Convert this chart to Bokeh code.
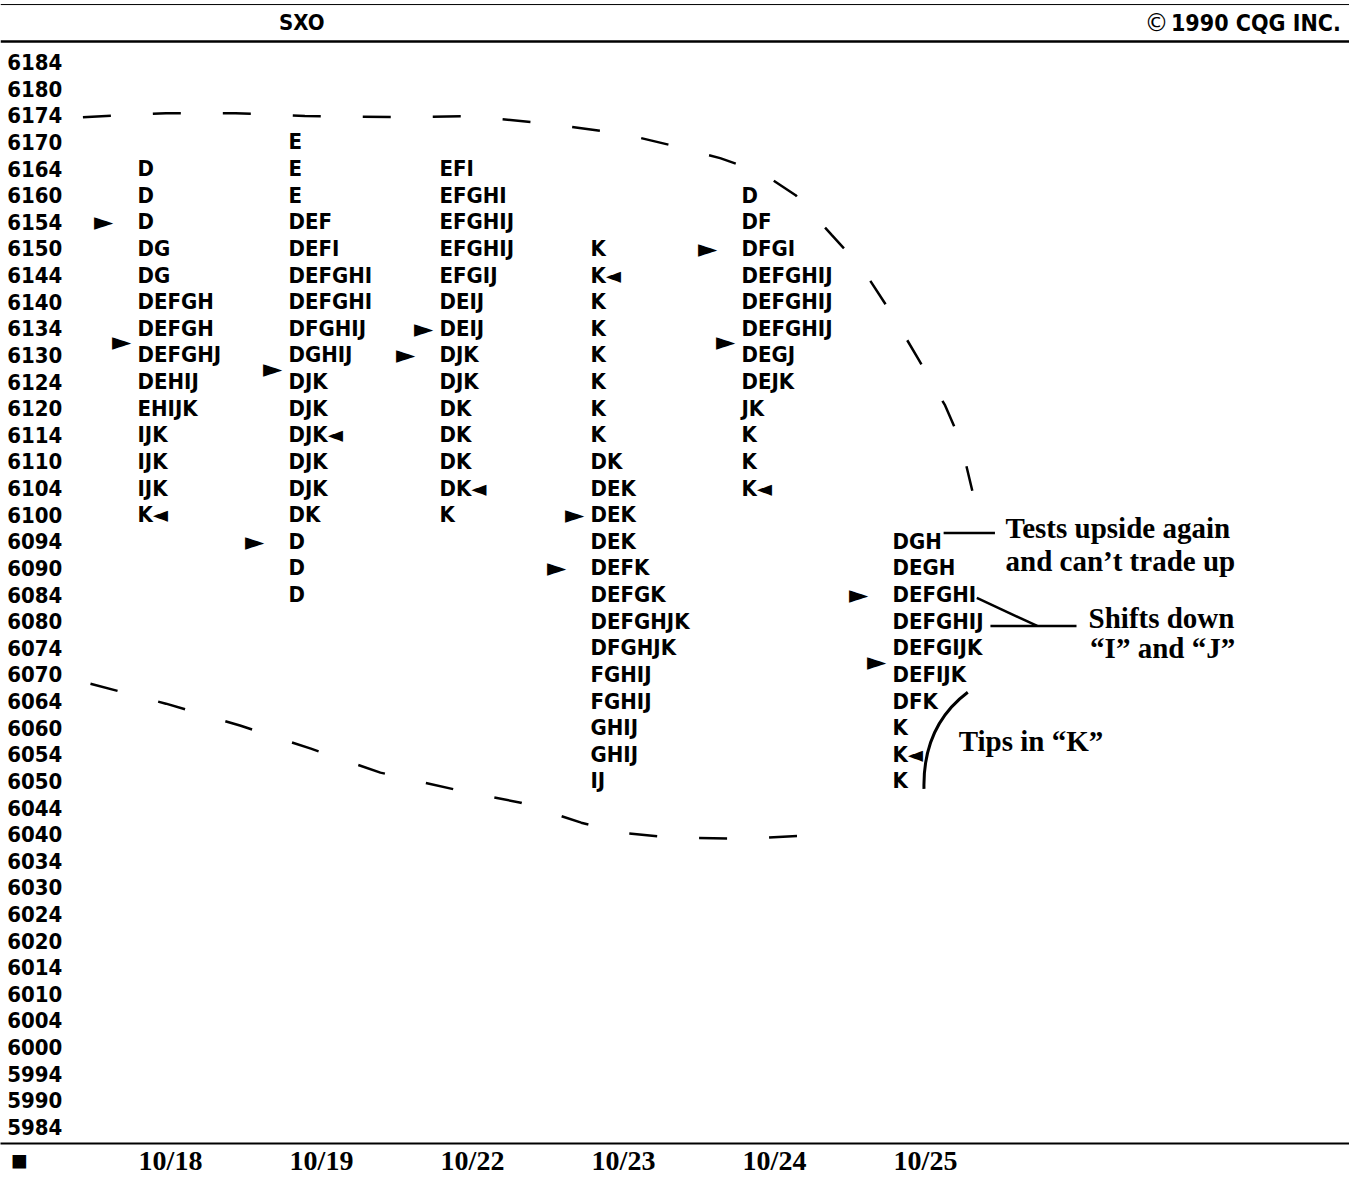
from bokeh.plotting import figure
from bokeh.models import Range1d, FixedTicker, ColumnDataSource
from bokeh.core.properties import value
from bokeh.embed import file_html
from bokeh.resources import INLINE

# ---------------- data ----------------
prices = ["6184", "6180", "6174", "6170", "6164", "6160", "6154", "6150", "6144", "6140",
          "6134", "6130", "6124", "6120", "6114", "6110", "6104", "6100", "6094", "6090",
          "6084", "6080", "6074", "6070", "6064", "6060", "6054", "6050", "6044", "6040",
          "6034", "6030", "6024", "6020", "6014", "6010", "6004", "6000", "5994", "5990", "5984"]
dates = ["10/18", "10/19", "10/22", "10/23", "10/24", "10/25"]

# first (highest) price of each day's profile
top_price = ["6164", "6170", "6164", "6150", "6160", "6094"]
prof_1018 = ["D", "D", "D", "DG", "DG", "DEFGH", "DEFGH", "DEFGHJ", "DEHIJ", "EHIJK",
             "IJK", "IJK", "IJK", "K"]
prof_1019 = ["E", "E", "E", "DEF", "DEFI", "DEFGHI", "DEFGHI", "DFGHIJ", "DGHIJ", "DJK",
             "DJK", "DJK", "DJK", "DJK", "DK", "D", "D", "D"]
prof_1022 = ["EFI", "EFGHI", "EFGHIJ", "EFGHIJ", "EFGIJ", "DEIJ", "DEIJ", "DJK", "DJK", "DK",
             "DK", "DK", "DK", "K"]
prof_1023 = ["K", "K", "K", "K", "K", "K", "K", "K", "DK", "DEK", "DEK", "DEK", "DEFK",
             "DEFGK", "DEFGHJK", "DFGHJK", "FGHIJ", "FGHIJ", "GHIJ", "GHIJ", "IJ"]
prof_1024 = ["D", "DF", "DFGI", "DEFGHIJ", "DEFGHIJ", "DEFGHIJ", "DEGJ", "DEJK", "JK", "K",
             "K", "K"]
prof_1025 = ["DGH", "DEGH", "DEFGHI", "DEFGHIJ", "DEFGIJK", "DEFIJK", "DFK", "K", "K", "K"]
profiles = [prof_1018, prof_1019, prof_1022, prof_1023, prof_1024, prof_1025]

close_price = ["6100", "6114", "6104", "6144", "6104", "6054"]      # "◄" markers
outer_arrow_price = ["6154", "6094", "6130", "6090", "6150", "6084"]  # far "►" markers
inner_arrow_row = [10.5, 11.5, 10.0, 17.0, 10.5, 22.5]              # near "►" markers (row position)

# hand-drawn dashed envelope (x in day units, y in price rows)
upper_x = [-0.58, -0.03, 0.43, 0.89, 1.49, 1.99, 2.52, 3.01, 3.34, 3.64, 3.91, 4.14, 4.38,
           4.58, 4.77, 4.95, 5.13, 5.23, 5.31]
upper_y = [2.07, 1.92, 1.92, 2.03, 2.07, 2.03, 2.33, 2.71, 3.16, 3.61, 4.14, 5.0, 6.5,
           7.74, 9.4, 11.13, 12.9, 14.2, 16.1]
lower_x = [-0.53, -0.33, -0.03, 0.46, 0.93, 1.39, 1.92, 2.32, 2.72, 2.98, 3.34, 3.84, 4.30]
lower_y = [23.35, 23.65, 24.1, 24.92, 25.79, 26.69, 27.37, 27.82, 28.57, 28.95, 29.14, 29.17, 29.02]

notes_text = ["Tests upside again", "and can\u2019t trade up", "Shifts down",
              "\u201cI\u201d and \u201cJ\u201d", "Tips in \u201cK\u201d"]
notes_x = [5.53, 5.53, 6.08, 6.09, 5.22]
notes_y = [17.5, 18.74, 20.88, 22.01, 25.51]

# ---------------- styles / layout constants ----------------
CONDENSED = value("Liberation Sans Narrow, DejaVu Sans Condensed, sans-serif")
SERIF = value("Liberation Serif, Times New Roman, serif")
LETTER_DX = -0.2185
FAR_DX = -0.225 - 0.2185
NEAR_DX = -0.106 - 0.2185
PX_X, PX_Y = 151.0, 26.6          # pixels per day, pixels per price row
X_ORIGIN, Y_ORIGIN = 170.0, 61.5  # pixel position of day 0 / row 0
W, H, FRAME_BOTTOM = 1349, 1178, 1142

row_of = {p: i for i, p in enumerate(prices)}

lx, ly, lt = [], [], []
for d, prof in enumerate(profiles):
    r0 = row_of[top_price[d]]
    for k, s in enumerate(prof):
        r = r0 + k
        if prices[r] == close_price[d]:
            s = s + "\u25c4"
        lx.append(d + LETTER_DX)
        ly.append(r)
        lt.append(s)
letters = ColumnDataSource(dict(x=lx, y=ly, text=lt))

ax, ay = [], []
for d in range(len(dates)):
    ax.append(d + FAR_DX)
    ay.append(row_of[outer_arrow_price[d]])
    ax.append(d + NEAR_DX)
    ay.append(inner_arrow_row[d])
arrows = ColumnDataSource(dict(x=ax, y=ay, text=["\u25ba"] * len(ax)))

X0, X1 = -X_ORIGIN / PX_X, (W - X_ORIGIN) / PX_X
Y_TOP, Y_BOT = -Y_ORIGIN / PX_Y, (FRAME_BOTTOM - Y_ORIGIN) / PX_Y
p = figure(width=W, height=H, output_backend="svg", toolbar_location=None,
           x_range=Range1d(X0, X1), y_range=Range1d(Y_BOT, Y_TOP),
           y_axis_location=None, min_border=0)
p.outline_line_color = None
p.grid.visible = False
p.background_fill_color = "white"
p.border_fill_color = "white"

# dates axis
ax_ = p.xaxis[0]
ax_.ticker = FixedTicker(ticks=[-1, 0, 1, 2, 3, 4, 5])
ax_.major_label_overrides = {-1: "\u25a0", **{i: d for i, d in enumerate(dates)}}
ax_.major_tick_line_color = None
ax_.minor_tick_line_color = None
ax_.axis_line_width = 2
ax_.axis_line_color = "black"
ax_.major_label_text_font = "Liberation Serif"
ax_.major_label_text_font_style = "bold"
ax_.major_label_text_font_size = "28px"
ax_.major_label_text_color = "black"
ax_.major_label_standoff = -5

# header rules
p.line([X0, X1], [-2.16, -2.16], line_color="black", line_width=1)
p.line([X0, X1], [-0.77, -0.77], line_color="black", line_width=2.5)

# header texts
p.text([0.87], [-1.48], text=["SXO"], text_font=CONDENSED, text_font_style="bold",
       text_font_size="22px", text_align="center", text_baseline="middle", text_color="black")
p.text([7.75], [-1.48], text=["1990 CQG INC."], text_font=CONDENSED, text_font_style="bold",
       text_font_size="23px", text_align="right", text_baseline="middle", text_color="black")
p.text([6.53], [-1.48], text=["\u00a9"], text_font=value("DejaVu Sans"),
       text_font_size="24px", text_align="center", text_baseline="middle", text_color="black")

# price labels
p.text([X0 + 0.045] * len(prices), list(range(len(prices))), text=prices, text_font=CONDENSED,
       text_font_style="bold", text_font_size="22px", text_align="left",
       text_baseline="middle", text_color="black")

# profile letters
p.text(x="x", y="y", text="text", source=letters, text_font=CONDENSED, text_font_style="bold",
       text_font_size="22px", text_align="left", text_baseline="middle", text_color="black")

# arrows
p.text(x="x", y="y", text="text", source=arrows, text_font=value("DejaVu Sans"),
       text_font_size="25px", text_align="center", text_baseline="middle", text_color="black")

# dashed envelope
p.line(upper_x, upper_y, line_color="black", line_width=2.5, line_dash="28 42")
p.line(lower_x, lower_y, line_color="black", line_width=2.5, line_dash="28 42")

# annotations
p.text(notes_x, notes_y, text=notes_text, text_font=SERIF, text_font_style="bold",
       text_font_size="29px", text_align="left", text_baseline="middle", text_color="black")
p.segment(x0=[5.12, 5.34, 5.43], y0=[17.69, 20.13, 21.18],
          x1=[5.46, 5.74, 6.00], y1=[17.69, 21.18, 21.18],
          line_color="black", line_width=2.5)
p.quadratic(x0=[5.28], y0=[23.67], x1=[4.99], y1=[27.3], cx=[4.98], cy=[24.95],
            line_color="black", line_width=3)

open("out.html", "w").write(file_html(p, INLINE))
